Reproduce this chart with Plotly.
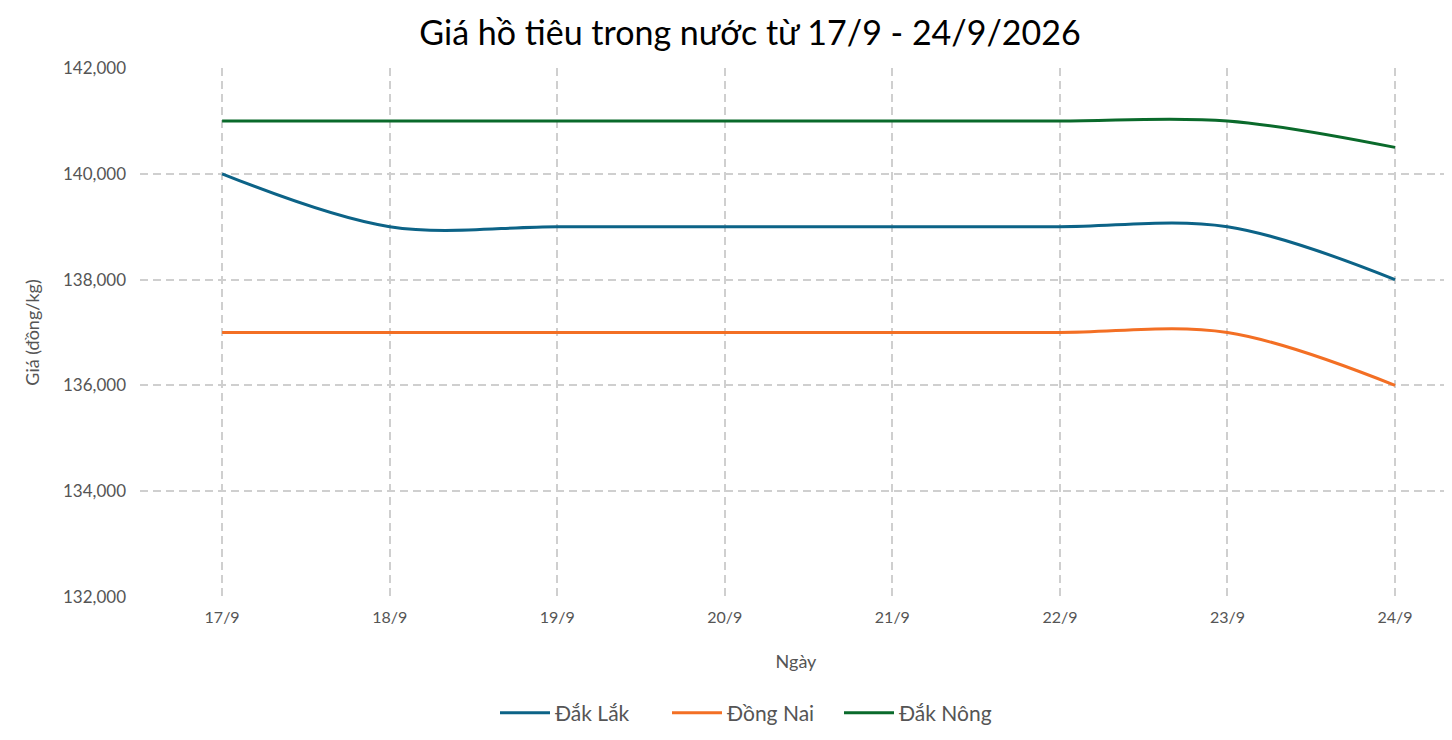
import plotly.graph_objects as go

days = ["17/9", "18/9", "19/9", "20/9", "21/9", "22/9", "23/9", "24/9"]
dak_lak = [140000, 139000, 139000, 139000, 139000, 139000, 139000, 138000]
dong_nai = [137000, 137000, 137000, 137000, 137000, 137000, 137000, 136000]
dak_nong = [141000, 141000, 141000, 141000, 141000, 141000, 141000, 140500]

series = [
    ("Đắk Lắk", dak_lak, "#0c6387"),
    ("Đồng Nai", dong_nai, "#f36f24"),
    ("Đắk Nông", dak_nong, "#0a6a2b"),
]

grey = "#555555"
# page has an 8px body margin, so the figure is drawn a little smaller
W, H = 1444, 732

fig = go.Figure()
for name, vals, color in series:
    fig.add_trace(
        go.Scatter(
            x=days,
            y=vals,
            name=name,
            mode="lines",
            line=dict(color=color, width=3, shape="spline", smoothing=1),
        )
    )

fig.update_layout(
    width=W,
    height=H,
    paper_bgcolor="white",
    plot_bgcolor="white",
    font=dict(family="Lato", color=grey, size=16),
    margin=dict(l=132, r=0, t=60, b=143),
    title=dict(
        text="Giá hồ tiêu trong nước từ 17/9 - 24/9/2026",
        font=dict(size=34, color="black", family="Lato"),
        x=742 / W,
        xanchor="center",
        y=1 - 25 / H,
        yanchor="middle",
    ),
    legend=dict(
        orientation="h",
        xref="container",
        yref="container",
        x=745 / W,
        xanchor="center",
        y=1 - 705 / H,
        yanchor="middle",
        itemwidth=50,
        entrywidth=107,
        font=dict(size=21, color=grey),
    ),
    showlegend=True,
)

fig.update_xaxes(
    type="category",
    range=[-0.49, 7.34],
    showgrid=True,
    gridcolor="#cfcfcf",
    griddash="8px,5px",
    gridwidth=1.5,
    zeroline=False,
    showline=False,
    ticks="",
    ticklabelstandoff=9,
    tickfont=dict(size=16),
    title=dict(text="Ngày", standoff=30, font=dict(size=18, color=grey)),
)

fig.update_yaxes(
    range=[132000, 142000],
    dtick=2000,
    tickformat=",d",
    showgrid=True,
    gridcolor="#cfcfcf",
    griddash="8px,5px",
    gridwidth=1.5,
    zeroline=False,
    showline=False,
    ticks="",
    ticklabelstandoff=13,
    tickfont=dict(size=17),
    title=dict(text="Giá (đồng/kg)", standoff=18, font=dict(size=18, color=grey)),
)

fig.write_html("out.html")
